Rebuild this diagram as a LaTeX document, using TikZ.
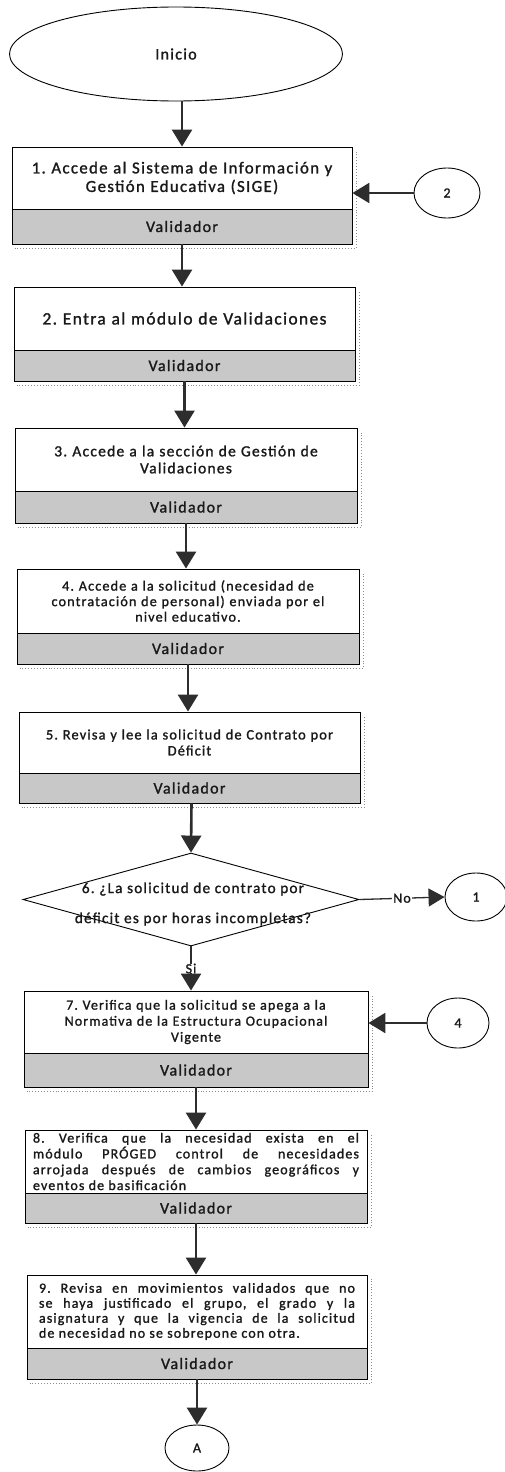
\documentclass[tikz,border=0pt]{standalone}
\usepackage{fontspec}
\setmainfont{Carlito}[LetterSpace=8,FakeBold=1.3]
\usetikzlibrary{arrows.meta,shapes.geometric,calc}
\definecolor{bandc}{RGB}{200,200,200}
\definecolor{ink}{RGB}{25,25,25}
\definecolor{arrowc}{RGB}{45,45,45}
\definecolor{shadowc}{RGB}{140,140,140}
\newcommand\fsz[2]{\fontsize{#1}{#2}\selectfont}
\newcommand\taskstep[9][]{%
  \node[task,#1,minimum width=#4pt,minimum height=#6pt] (#2) at (#3,#5) {#9};
  \node[bandbox,minimum width=#4pt,minimum height=#8pt] (v#2) at (#3,#7) {Validador};
  \draw[shadowline] ($(v#2.south west)+(3,4)$) -- ($(v#2.south east)+(4,4)$) -- ($(#2.north east)+(4,4)$);
}
\frenchspacing
\begin{document}
\begin{tikzpicture}[x=1pt,y=-1pt,
  every node/.style={font=\fsz{14}{15.5},text=ink},
  task/.style={draw=black,line width=.9pt,fill=white,inner sep=0pt,align=center,text width=330pt},
  taskj/.style={align=justify,text width=318pt},
  bandbox/.style={draw=black,line width=.9pt,fill=bandc,inner sep=0pt,font=\fsz{16}{18}},
  conn/.style={ellipse,draw=black,line width=.9pt,fill=white,inner sep=0pt},
  shadowline/.style={draw=shadowc,dotted,line width=.9pt},
  arr/.style={draw=arrowc,line width=2.6pt,-{Triangle[length=17pt,width=20pt]}},
  thinarr/.style={draw=arrowc,line width=1.3pt,-{Triangle[length=16pt,width=18pt]}}]
\fill[white] (0,0) rectangle (504,1472);
\useasboundingbox (0,0) rectangle (504,1472);

% start
\node[conn,minimum width=333pt,minimum height=94pt,font=\fsz{16}{18}] (inicio) at (176,54) {Inicio};

\taskstep[font=\fsz{16.8}{18.5}]{b1}{182}{340}{178}{62}{226.5}{35}{1. Accede al Sistema de Información y\\ Gestión Educativa (SIGE)}
\taskstep[font=\fsz{17.4}{20}]{b2}{184.5}{341}{318.5}{63}{365.5}{31}{2. Entra al módulo de Validaciones}
\taskstep[font=\fsz{15.5}{17}]{b3}{186}{342}{459.5}{63}{507}{32}{3. Accede a la sección de Gestión de\\ Validaciones}
\taskstep[font=\fsz{14.2}{15.5}]{b4}{188}{342}{601}{64}{648.5}{31}{4. Accede a la solicitud (necesidad de\\ contratación de personal) enviada por el\\ nivel educativo.}
\taskstep[font=\fsz{14.4}{16}]{b5}{189.5}{341}{742.5}{61}{788}{30}{5. Revisa y lee la solicitud de Contrato por\\ Déficit}

% decision
\node[diamond,draw=black,line width=.9pt,fill=white,inner sep=0pt,minimum width=336pt,minimum height=93pt] (d6) at (191,899.5) {};
\node[align=center,font=\fsz{15.2}{16}] (d6t) at (193,904) {6. ¿La solicitud de contrato por\\[14pt]déficit es por horas incompletas?};

\taskstep[font=\fsz{14}{16}]{b7}{196}{344}{1022}{62}{1070}{34}{7. Verifica que la solicitud se apega a la\\ Normativa de la Estructura Ocupacional\\ Vigente}
\taskstep[taskj,text width=326pt,font=\fsz{14}{15.8}]{b8}{196}{342}{1161.5}{63}{1208}{30}{8. Verifica que la necesidad exista en el\linebreak módulo PRÓGED control de necesidades\linebreak arrojada después de cambios geográficos y\linebreak eventos de basificación}
\taskstep[taskj,text width=316pt,font=\fsz{14}{15}]{b9}{197}{340}{1311.5}{73}{1363.5}{31}{9. Revisa en movimientos validados que no\linebreak se haya justificado el grupo, el grado y la\linebreak asignatura y que la vigencia de la solicitud\linebreak de necesidad no se sobrepone con otra.}

% connectors (off-page)
\node[conn,minimum width=66pt,minimum height=50pt] (c2) at (447,193) {2};
\node[conn,minimum width=62pt,minimum height=48pt] (c1) at (476,897) {1};
\node[conn,minimum width=62pt,minimum height=50pt] (c4) at (458,1023) {4};
\node[conn,minimum width=64pt,minimum height=46pt] (cA) at (197,1448) {A};

% arrows
\draw[arr] (b1.north |- inicio.south) -- (b1.north);
\draw[arr] (c2.west) -- (c2.west -| b1.east);
\draw[arr] (vb1.south) -- (vb1.south |- b2.north);
\draw[arr] (vb2.south) -- (vb2.south |- b3.north);
\draw[arr] (vb3.south) -- (vb3.south |- b4.north);
\draw[arr] (vb4.south) -- (vb4.south |- b5.north);
\draw[arr] ($(vb5.south)+(2,0)$) -- (d6.north);
\draw[thinarr] (d6.east) -- node[fill=white,inner xsep=1pt,inner ysep=0pt] (no) {No} (c1.west);
\draw[arr] (d6.south) -- node[fill=white,inner xsep=1pt,inner ysep=0pt,pos=0.5] (si) {Si} (d6.south |- b7.north);
\draw[arr] (c4.west) -- (c4.west -| b7.east);
\draw[arr] (vb7.south) -- (vb7.south |- b8.north);
\draw[arr] (vb8.south) -- (vb8.south |- b9.north);
\draw[arr] (vb9.south) -- (cA.north);
\end{tikzpicture}
\end{document}
